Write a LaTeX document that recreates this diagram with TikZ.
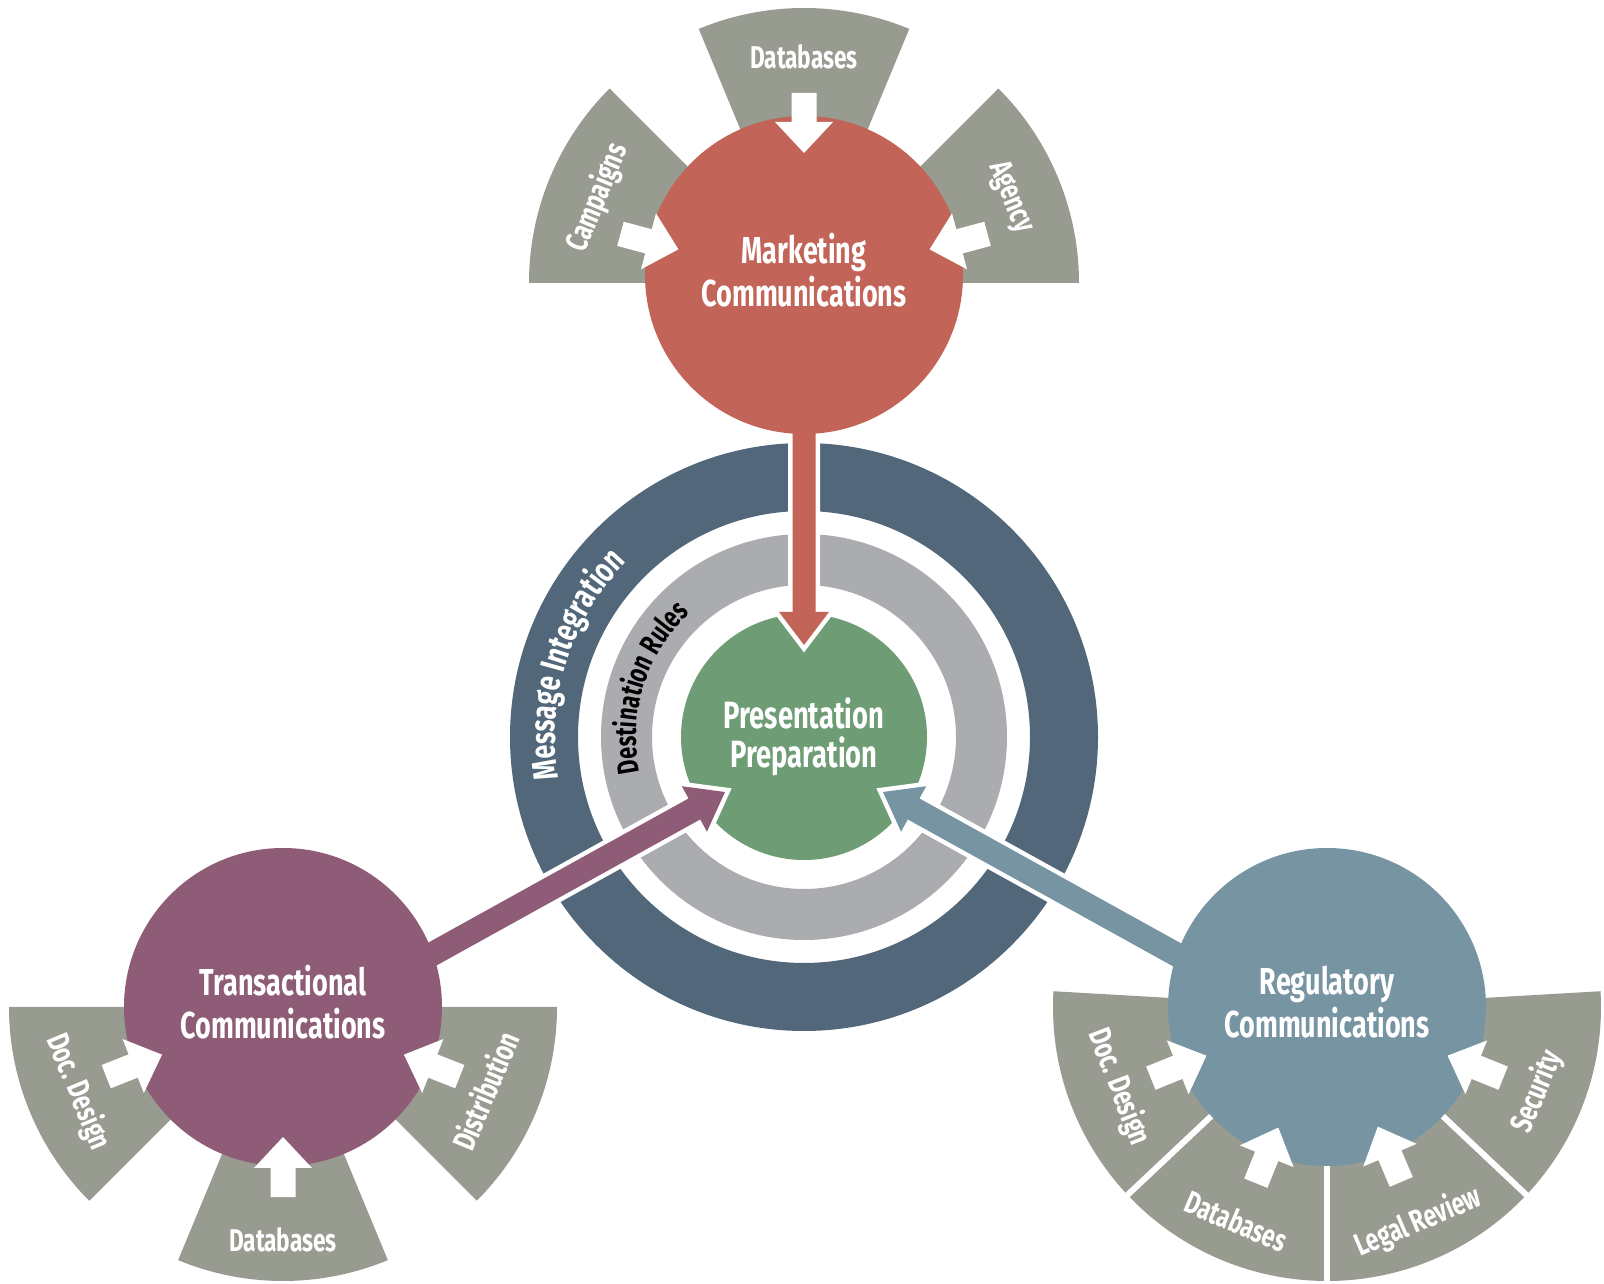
\documentclass[tikz,border=0pt]{standalone}
\usepackage{fontspec}
\setmainfont{Fira Sans}[FakeStretch=0.72]
\usetikzlibrary{calc,decorations.text}
\definecolor{fangray}{HTML}{979B90}
\definecolor{mkred}{HTML}{C26457}
\definecolor{trpurple}{HTML}{8F5C77}
\definecolor{regblue}{HTML}{7794A3}
\definecolor{ringdark}{HTML}{52687A}
\definecolor{ringgray}{HTML}{ABACAF}
\definecolor{ppgreen}{HTML}{6E9C75}
\newcommand\mkbigfont{\bfseries\fontsize{37.5}{43}\selectfont}
\newcommand\mkppfont{\bfseries\fontsize{38}{39}\selectfont}
\newcommand\mklbl{\bfseries\fontsize{31.5}{34}\selectfont}
\newcommand\mkringfont{\bfseries\fontsize{35}{38}\selectfont}
\newcommand\mkrulefont{\bfseries\fontsize{30}{33}\selectfont}
% #1 tail, #2 tip, #3 style, #4 half stem, #5 half head, #6 head length
\newcommand{\fatarrow}[6]{%
  \path[#3] ($(#2)!#6!(#1)!#4!90:(#1)$) -- ($(#2)!#6!(#1)!#5!90:(#1)$) -- (#2)
    -- ($(#2)!#6!(#1)!#5!-90:(#1)$) -- ($(#2)!#6!(#1)!#4!-90:(#1)$)
    -- ($(#1)!#4!90:(#2)$) -- ($(#1)!#4!-90:(#2)$) -- cycle;}
% #1 center, #2 angle, #3 name
\newcommand{\fanarrow}[3]{%
  \coordinate (#3t) at ($(#1)+(#2:190pt)$);
  \coordinate (#3h) at ($(#1)+(#2:130pt)$);
  \fatarrow{#3t}{#3h}{fill=white}{12.5pt}{29pt}{31pt}}
% #1 center, #2 a1, #3 a2, #4 radius, #5 style
\newcommand{\fanshape}[5]{%
  \fill[#5] (#1) -- ($(#1)+(#2:#4)$) arc[start angle=#2, end angle=#3, radius=#4] -- cycle;}
% #1 center, #2 start angle, #3 end angle, #4 radius, #5 format, #6 text, #7 color
\newcommand{\arclabel}[7]{%
  \path[decorate, decoration={text along path, text={|#5|#6}, text align=center, text color=#7}]
    ($(#1)+(#2:#4)$) arc[start angle=#2, end angle=#3, radius=#4];}
\tikzset{
  srccircle/.style={circle, minimum size=318pt, inner sep=0pt},
  srctext/.style={inner sep=0pt, text=white, align=center, font=\mkbigfont},
  bigarrow/.style={preaction={draw=white, line width=9pt, line join=miter}},
  fanlbl/.style={anchor=base, inner sep=0pt, text=white, font=\mklbl},
}
\begin{document}
\begin{tikzpicture}[x=1pt,y=1pt]
\useasboundingbox (0,0) rectangle (1604,1283);
\fill[white] (0,0) rectangle (1604,1283);

\coordinate (ctr) at (804,546);
\coordinate (fM) at (804,1000);
\coordinate (fT) at (283,276);
\coordinate (fR) at (1327,276);

% rings
\fill[ringdark, even odd rule] (ctr) circle[radius=294pt] (ctr) circle[radius=226pt];
\fill[ringgray, even odd rule] (ctr) circle[radius=203pt] (ctr) circle[radius=152pt];

\node[circle, fill=ppgreen, minimum size=246pt, inner sep=0pt, text=white, align=center, font=\mkppfont] (pp) at (ctr) {Presentation\\Preparation};

% big arrows
\coordinate (tailM) at (804,1008);
\coordinate (tipM) at (804,638);
\coordinate (tailT) at (288,249);
\coordinate (tipT) at (725,491);
\coordinate (tailR) at (1320,249);
\coordinate (tipR) at (883,491);
\fatarrow{tailM}{tipM}{bigarrow, fill=mkred}{11.5pt}{25pt}{33pt}
\fatarrow{tailT}{tipT}{bigarrow, fill=trpurple}{12pt}{26pt}{35pt}
\fatarrow{tailR}{tipR}{bigarrow, fill=regblue}{12pt}{26pt}{35pt}

% fans
\fanshape{fM}{0}{45}{275pt}{fangray}
\fanshape{fM}{67.5}{112.5}{275pt}{fangray}
\fanshape{fM}{135}{180}{275pt}{fangray}
\fanshape{fT}{180}{225}{274pt}{fangray}
\fanshape{fT}{247.5}{292.5}{274pt}{fangray}
\fanshape{fT}{315}{360}{274pt}{fangray}
\fanshape{fR}{176.7}{363.3}{274pt}{fangray}
\foreach \a in {223.3,270,316.7}{
  \draw[white, line width=6pt] (fR) -- ($(fR)+(\a:290pt)$);
}

% source circles
\node[srccircle, fill=mkred] (mc) at (804,1008) {};
\node[srccircle, fill=trpurple] (tc) at (283,276) {};
\node[srccircle, fill=regblue] (rc) at (1327,276) {};
\node[srctext] (mct) at ($(mc.center)+(0,5)$) {Marketing\\Communications};
\node[srctext] (tct) at ($(tc.center)+(0,5)$) {Transactional\\Communications};
\node[srctext] (rct) at ($(rc.center)+(0,5)$) {Regulatory\\Communications};

% small arrows
\fanarrow{fM}{165}{mA}
\fanarrow{fM}{90}{mB}
\fanarrow{fM}{15}{mC}
\fanarrow{fT}{201.5}{tA}
\fanarrow{fT}{270}{tB}
\fanarrow{fT}{338.5}{tC}
\fanarrow{fR}{202}{rA}
\fanarrow{fR}{248}{rB}
\fanarrow{fR}{293}{rC}
\fanarrow{fR}{338}{rD}

% fan labels
\node[fanlbl, rotate=67.5] (lmA) at ($(fM)+(157.5:214pt)$) {Campaigns};
\node[fanlbl] (lmB) at ($(fM)+(90:214pt)$) {Databases};
\node[fanlbl, rotate=-67.5] (lmC) at ($(fM)+(22.5:216pt)$) {Agency};
\node[fanlbl, rotate=-67.5] (ltA) at ($(fT)+(202.5:231pt)$) {Doc. Design};
\node[fanlbl] (ltB) at ($(fT)+(270:244pt)$) {Databases};
\node[fanlbl, rotate=67.5] (ltC) at ($(fT)+(337.5:231pt)$) {Distribution};
\node[fanlbl, rotate=-69] (lrA) at ($(fR)+(201:232pt)$) {Doc. Design};
\node[fanlbl, rotate=-23] (lrB) at ($(fR)+(247:244pt)$) {Databases};
\node[fanlbl, rotate=23] (lrC) at ($(fR)+(293:243pt)$) {Legal Review};
\node[fanlbl, rotate=68] (lrD) at ($(fR)+(338:236pt)$) {Security};

% ring labels
\arclabel{ctr}{200}{125}{249pt}{\mkringfont}{Message Integration}{white}
\arclabel{ctr}{200}{125}{168pt}{\mkrulefont}{Destination Rules}{black}
\end{tikzpicture}
\end{document}
